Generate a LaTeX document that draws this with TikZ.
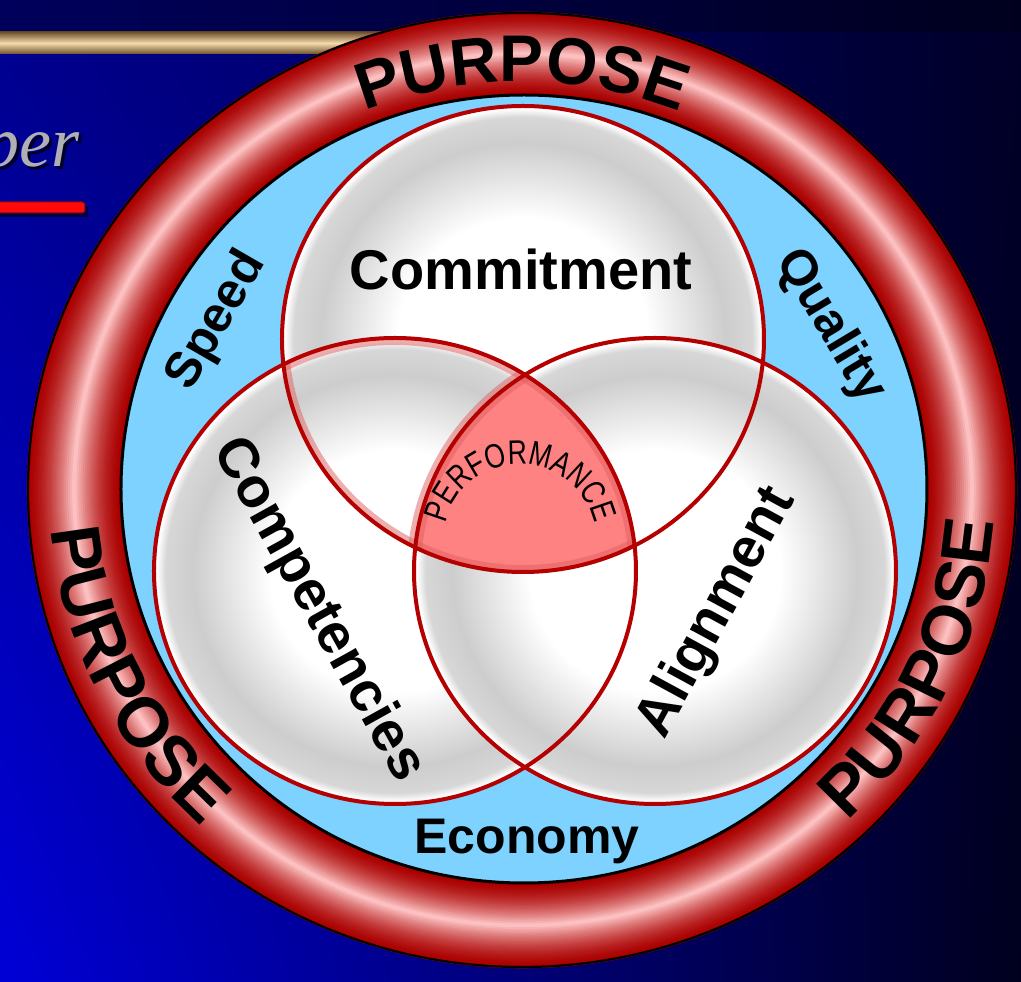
\documentclass[tikz,border=0pt]{standalone}
\usepackage{fontspec}
\setmainfont{Liberation Sans}
\newfontfamily\serifit{Liberation Serif}
\newfontfamily\perffont[FakeStretch=0.78]{Liberation Sans}
\usetikzlibrary{decorations.text,shadings}
\definecolor{bgUL}{RGB}{0,0,140}
\definecolor{bgLL}{RGB}{0,0,215}
\definecolor{bgUR}{RGB}{0,0,40}
\definecolor{bgLR}{RGB}{0,0,30}
\definecolor{topL}{RGB}{0,0,92}
\definecolor{topR}{RGB}{0,0,30}
\definecolor{goldD}{RGB}{110,82,45}
\definecolor{goldL}{RGB}{245,218,172}
\definecolor{pergray}{RGB}{175,175,180}
\definecolor{barred}{RGB}{255,10,10}
\definecolor{ringdk}{RGB}{170,0,0}
\definecolor{ringhi}{RGB}{255,200,200}
\definecolor{skyblue}{RGB}{125,210,255}
\definecolor{circred}{RGB}{180,0,0}
\definecolor{perfpink}{RGB}{255,130,130}
\definecolor{pinkdk}{RGB}{225,95,95}
\definecolor{ballgray}{RGB}{205,205,205}
\definecolor{ballgrayb}{RGB}{215,215,215}
\pgfdeclareradialshading{vball}{\pgfpoint{0bp}{0bp}}{color(0bp)=(white); color(13bp)=(white); color(21bp)=(ballgray); color(23.8bp)=(ballgrayb); color(24.7bp)=(white); color(25bp)=(white); color(50bp)=(white)}
\newcommand\purposefont{\bfseries\fontsize{66}{66}\selectfont}
\newcommand\purposefontside{\bfseries\fontsize{70}{70}\selectfont}
\newcommand\perfstyle{\perffont\fontsize{34}{34}\selectfont}
\tikzset{
  bandlbl/.style={font=\bfseries\fontsize{50}{50}\selectfont, text=black, inner sep=0pt},
  circlbl/.style={font=\bfseries\fontsize{56}{56}\selectfont, text=black, inner sep=0pt},
  circout/.style={draw=circred, line width=4pt},
  perfedge/.style={draw=pinkdk, line width=14pt, opacity=0.5},
}
\begin{document}
\begin{tikzpicture}[x=1pt,y=1pt]
\useasboundingbox (-522,-492) rectangle (499,490);
% background
\shade[upper left=bgUL, upper right=bgUR, lower left=bgLL, lower right=bgLR] (-522,-492) rectangle (499,490);
\shade[left color=topL, right color=topR] (-522,458) rectangle (499,490);
% gold bar
\shade[top color=goldD, bottom color=goldD, middle color=goldL] (-522,436) rectangle (0,458);
% per text
\node[font=\serifit\itshape\fontsize{72}{72}\selectfont, text=black!70!bgUL, anchor=base east, inner sep=0pt] (pershadow) at (-439,320) {per};
\node[font=\serifit\itshape\fontsize{72}{72}\selectfont, text=pergray, anchor=base east, inner sep=0pt] (pertext) at (-442,323) {per};
% red bar
\fill[black, opacity=0.55, rounded corners=2] (-530,284) rectangle (-434,273);
\fill[barred, draw=barred!55!black, line width=1pt, rounded corners=3] (-530,288) rectangle (-437,277);
% ring
\foreach \i in {0,...,45} {
  \pgfmathsetmacro\tval{\i/45}
  \pgfmathsetmacro\rxv{494-91*\tval}
  \pgfmathsetmacro\ryv{477-83*\tval}
  \pgfmathsetmacro\cxv{2*\tval}
  \pgfmathsetmacro\cyv{\tval}
  \pgfmathtruncatemacro\pc{100*(1-abs(2*\tval-1))^1.6}
  \draw[line width=2.6pt, color=ringhi!\pc!ringdk] (\cxv,\cyv) ellipse[x radius=\rxv, y radius=\ryv];
}
\draw[black, line width=2.2pt] (0,0) ellipse[x radius=494, y radius=477];
\fill[skyblue] (2,1) ellipse[x radius=403, y radius=394];
\draw[black, line width=3pt] (2,1) ellipse[x radius=403, y radius=394];
% circles
\shade[shading=vball] (1,151) ellipse[x radius=241, y radius=233];
\shade[shading=vball] (-127,-81) ellipse[x radius=241, y radius=233];
\shade[shading=vball] (133,-81) ellipse[x radius=241, y radius=233];
% triple intersection
\begin{scope}
  \clip (1,151) ellipse[x radius=241, y radius=233];
  \clip (-127,-81) ellipse[x radius=241, y radius=233];
  \fill[perfpink] (133,-81) ellipse[x radius=241, y radius=233];
  \draw[perfedge] (1,151) ellipse[x radius=241, y radius=233];
  \draw[perfedge] (-127,-81) ellipse[x radius=241, y radius=233];
  \draw[perfedge] (133,-81) ellipse[x radius=241, y radius=233];
\end{scope}
\draw[circout] (1,151) ellipse[x radius=241, y radius=233];
\draw[circout] (-127,-81) ellipse[x radius=241, y radius=233];
\draw[circout] (133,-81) ellipse[x radius=241, y radius=233];
% ring texts
\path[decorate, decoration={text along path, text={|\purposefont|PURPOSE}, text align=center}]
  (0,0) ++(126:422 and 408) arc[start angle=126, end angle=54, x radius=422, y radius=408];
\path[decorate, decoration={text along path, text={|\purposefontside|PURPOSE}, text align=center}]
  (0,0) ++(166:473 and 456) arc[start angle=166, end angle=246, x radius=473, y radius=456];
\path[decorate, decoration={text along path, text={|\purposefontside|PURPOSE}, text align=center}]
  (0,0) ++(295:473 and 456) arc[start angle=295, end angle=375, x radius=473, y radius=456];
% performance
\path[decorate, decoration={text along path, text={|\perfstyle|PERFORMANCE}, text align=center}]
  (-2,-50) ++(178:76) arc[start angle=178, end angle=2, radius=76];
% labels
\node[circlbl, anchor=base] (commit) at (-1,200) {Commitment};
\node[circlbl, rotate=-61] (compet) at (-204,-120) {Competencies};
\node[circlbl, rotate=61.5] (align) at (195,-123) {Alignment};
\node[bandlbl, rotate=60] (speed) at (-305,169) {Speed};
\node[bandlbl, rotate=-59] (quality) at (308,164) {Quality};
\node[bandlbl, anchor=base] (economy) at (5,-363) {Economy};
\end{tikzpicture}
\end{document}
